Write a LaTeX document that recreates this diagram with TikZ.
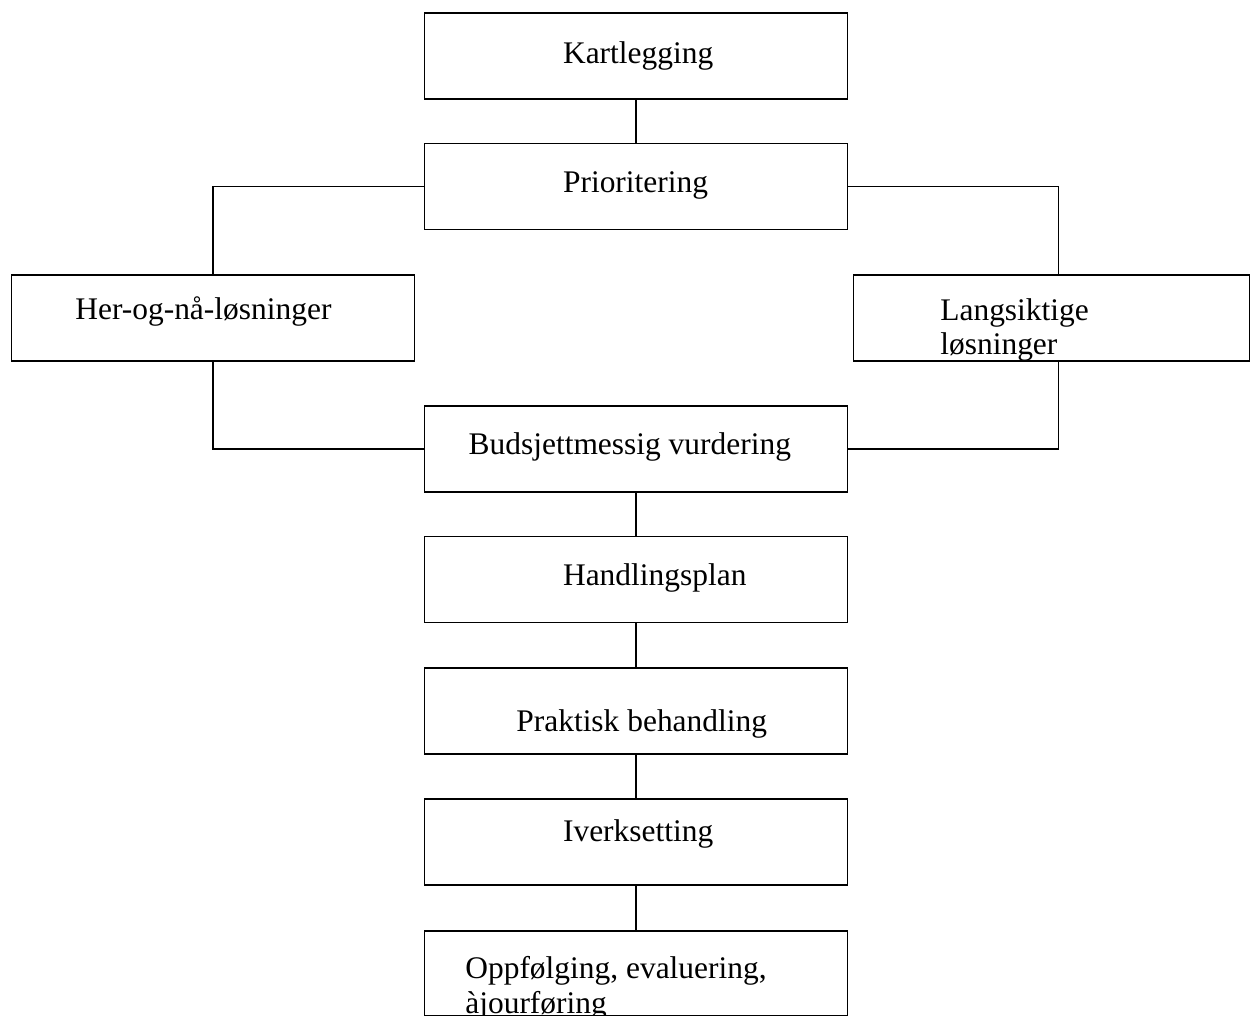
\documentclass[tikz,border=0pt]{standalone}
\usepackage{fontspec}
\setmainfont{Liberation Serif}

\begin{document}
\begin{tikzpicture}[x=0.02cm, y=-0.02cm,
    boks/.style={draw, line width=0.6pt, minimum width=8.48cm, minimum height=1.72cm, inner sep=0pt},
    tekst/.style={anchor=base west, inner sep=0pt, align=left, font=\fontsize{17.9pt}{19.9pt}\selectfont}]

  \useasboundingbox (0,0) rectangle (1250,1016);

  % Boxes
  \node[boks] (kart) at (636,56) {};
  \node[boks] (prior) at (636,186.5) {};
  \node[boks, minimum width=8.08cm] (her) at (213,318) {};
  \node[boks, minimum width=7.93cm] (lang) at (1051.25,318) {};
  \node[boks] (budsj) at (636,449) {};
  \node[boks] (handl) at (636,579.5) {};
  \node[boks] (prakt) at (636,711) {};
  \node[boks] (iverk) at (636,842) {};
  \node[boks, minimum height=1.69cm] (oppf) at (636,973.25) {};

  % Texts (two-line texts sit on the baseline of their last line)
  \node[tekst] (kart-t) at (562.7,63.3) {Kartlegging};
  \node[tekst] (prior-t) at (562.7,192.7) {Prioritering};
  \node[tekst] (her-t) at (75,320) {Her-og-nå-løsninger};
  \node[tekst] (lang-t) at (940,355) {Langsiktige\\løsninger};
  \node[tekst] (budsj-t) at (468.3,455) {Budsjettmessig vurdering};
  \node[tekst] (handl-t) at (562.7,585) {Handlingsplan};
  \node[tekst] (prakt-t) at (516,731.7) {Praktisk behandling};
  \node[tekst] (iverk-t) at (562.7,841.7) {Iverksetting};
  \node[tekst] (oppf-t) at (465,1013.3) {Oppfølging, evaluering,\\àjourføring};

  % Connectors
  \draw[line width=0.6pt] (kart) -- (prior);
  \draw[line width=0.6pt] (prior.west) -| (her.north);
  \draw[line width=0.6pt] (prior.east) -| ([xshift=0.15cm]lang.north);
  \draw[line width=0.6pt] (her.south) |- (budsj.west);
  \draw[line width=0.6pt] ([xshift=0.15cm]lang.south) |- (budsj.east);
  \foreach \a/\b in {budsj/handl, handl/prakt, prakt/iverk, iverk/oppf}
    \draw[line width=0.6pt] (\a) -- (\b);

\end{tikzpicture}
\end{document}
